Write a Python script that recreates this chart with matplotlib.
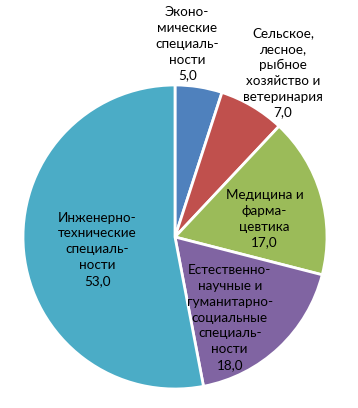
import matplotlib
matplotlib.use("Agg")
import matplotlib.pyplot as plt

# data
categories = [
    "Эконо-\nмические\nспециаль-\nности",
    "Сельское,\nлесное,\nрыбное\nхозяйство и\nветеринария",
    "Медицина и\nфарма-\nцевтика",
    "Естественно-\nнаучные и\nгуманитарно-\nсоциальные\nспециаль-\nности",
    "Инженерно-\nтехнические\nспециаль-\nности",
]
values = [5.0, 7.0, 17.0, 18.0, 53.0]

colors = ["#4F81BD", "#C0504D", "#9BBB59", "#8064A2", "#4BACC6"]
# label centres in axes data units (pie radius = 1)
label_xy = [(0.08, 1.27), (0.71, 1.08), (0.59, 0.12), (0.36, -0.53), (-0.51, -0.08)]

plt.rcParams['font.family'] = ['Lato', 'DejaVu Sans']

fig = plt.figure(figsize=(3.58, 4.08), dpi=100)
ax = fig.add_axes([23 / 358, 19 / 408, 304 / 358, 304 / 408])

ax.pie(values, colors=colors, startangle=90, counterclock=False,
       wedgeprops=dict(edgecolor='white', linewidth=2.0))

for name, val, (x, y) in zip(categories, values, label_xy):
    txt = name + "\n" + f"{val:.1f}".replace(".", ",")
    ax.text(x, y, txt, ha='center', va='center', fontsize=9.7,
            color='black', linespacing=1.38)

ax.set_xlim(-1, 1)
ax.set_ylim(-1, 1)
ax.set_aspect('equal')
ax.axis('off')

fig.savefig("out.png", dpi=100, facecolor='white')
